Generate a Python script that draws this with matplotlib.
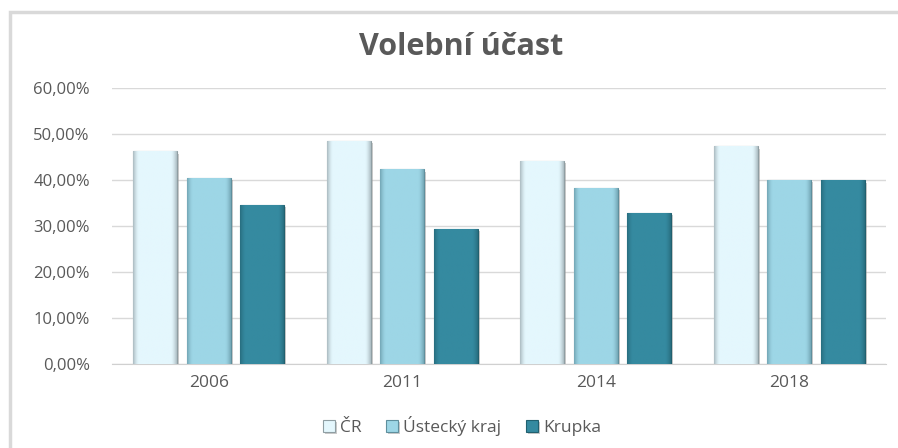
import numpy as np
import matplotlib
matplotlib.use("Agg")
import matplotlib.pyplot as plt
import matplotlib.patheffects as pe
from matplotlib.ticker import FuncFormatter
from matplotlib.patches import Rectangle
from matplotlib.colors import to_rgb

# data
years = ["2006", "2011", "2014", "2018"]
series_names = ["ČR", "Ústecký kraj", "Krupka"]
cr = [0.462, 0.484, 0.442, 0.473]
ustecky = [0.404, 0.423, 0.383, 0.401]
krupka = [0.346, 0.293, 0.328, 0.399]

colors = ["#e4f7fd", "#9dd6e6", "#358aa0"]
edges = ["#8f9ea3", "#5f8f9d", "#21606f"]

plt.rcParams['font.family'] = ['Open Sans', 'DejaVu Sans']


def bevel(ax, bar, face, edge):
    # horizontal shading: darker sides, flat middle
    f = np.array(to_rgb(face))
    e = np.array(to_rgb(edge))
    t = np.linspace(0, 1, 40)
    w = np.clip(1 - np.minimum(t, 1 - t) / 0.12, 0, 1) ** 1.5
    row = f[None, :] * (1 - w[:, None] * 0.6) + e[None, :] * (w[:, None] * 0.6)
    img = np.repeat(row[None, :, :], 2, axis=0)
    x0, y0 = bar.get_x(), bar.get_y()
    im = ax.imshow(img, extent=[x0, x0 + bar.get_width(), y0, y0 + bar.get_height()],
                   aspect="auto", zorder=3.5, interpolation="bilinear")
    im.set_clip_path(bar)


fig = plt.figure(figsize=(8.98, 4.48), dpi=100)
# chart border like excel
fig.patches.append(Rectangle((10 / 898, -0.05), 1.2, 1 - 12 / 448 + 0.05,
                             transform=fig.transFigure, fill=False,
                             edgecolor="#d9d9d9", linewidth=2.5))

ax = fig.add_axes([112 / 898, 1 - 364 / 448, 774 / 898, 276 / 448])

x = np.arange(len(years))
width = 0.227
step = 0.276
for i, vals in enumerate([cr, ustecky, krupka]):
    bars = ax.bar(x + (i - 1) * step, vals, width, color=colors[i],
                  edgecolor=edges[i], linewidth=0.8, label=series_names[i], zorder=3)
    for b in bars:
        b.set_path_effects([pe.SimplePatchShadow(offset=(1.5, -1.5), shadow_rgbFace="#999999", alpha=0.5),
                            pe.Normal()])
        bevel(ax, b, colors[i], edges[i])

ax.set_xlim(-0.5, len(years) - 0.5)
ax.set_ylim(0, 0.6)
ax.set_yticks(np.arange(0, 0.61, 0.1))
ax.yaxis.set_major_formatter(FuncFormatter(lambda v, p: f"{v * 100:.2f}%".replace(".", ",")))
ax.set_xticks(x)
ax.set_xticklabels(years)
ax.grid(axis="y", color="#d9d9d9", linewidth=1, zorder=0)
for s in ["top", "right", "left"]:
    ax.spines[s].set_visible(False)
ax.spines["bottom"].set_color("#d0d0d0")
ax.tick_params(axis="both", length=0, colors="#595959", labelsize=12)
ax.tick_params(axis="y", pad=16)
ax.tick_params(axis="x", pad=8, labelsize=12.5)

fig.text(461 / 898, 1 - 47 / 448, "Volební účast", ha="center", va="center",
         fontsize=22, fontweight="bold", color="#595959")

leg = fig.legend(loc="center", bbox_to_anchor=(462 / 898, 1 - 426 / 448), ncol=3,
                 frameon=False, fontsize=12.5, handlelength=0.7, handleheight=0.7,
                 handletextpad=0.3, columnspacing=1.4)
for t in leg.get_texts():
    t.set_color("#595959")

fig.savefig("out.png", dpi=100)
